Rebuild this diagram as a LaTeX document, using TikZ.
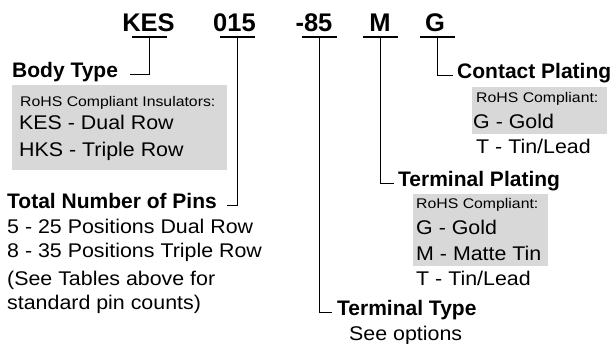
\documentclass[tikz,border=0pt]{standalone}
\usepackage{fontspec}
\setmainfont{Liberation Sans}
\newfontfamily\optfont[FakeStretch=1.08]{Liberation Sans}
\newfontfamily\rohsfont[FakeStretch=1.13]{Liberation Sans}
\usetikzlibrary{positioning}
\definecolor{boxgray}{RGB}{216,216,216}

\begin{document}
\begin{tikzpicture}[x=1pt,y=-1pt,
                    code/.style={font=\bfseries\fontsize{25.5}{30}\selectfont,inner sep=0pt,anchor=base},
                    head/.style={font=\bfseries\fontsize{21}{24}\selectfont,inner sep=0pt,anchor=base west},
                    opt/.style={font=\optfont\fontsize{19.8}{22}\selectfont,inner sep=0pt,anchor=base west},
                    rohs/.style={font=\rohsfont\fontsize{14}{16}\selectfont,inner sep=0pt,anchor=base west},
                    leader/.style={line width=1.5pt}
]
\useasboundingbox (0,0) rectangle (613,343);

% part number
\node [code] at (148.5,31) (kes) {KES};
\node [code] at (234.5,31) (pins) {015};
\node [code] at (314,31) (term) {-85};
\node [code] at (380,31) (tplat) {M};
\node [code] at (435,31) (cplat) {G};
\coordinate (kes u) at (149.5,37);
\coordinate (pins u) at (237.5,37);
\coordinate (term u) at (319.5,37);
\coordinate (tplat u) at (380.5,37);
\coordinate (cplat u) at (437.5,37);
\draw[leader] ([xshift=-17.5pt]kes u) -- ([xshift=17.5pt]kes u);
\draw[leader] ([xshift=-17.5pt]pins u) -- ([xshift=17.5pt]pins u);
\draw[leader] ([xshift=-17.5pt]term u) -- ([xshift=17.5pt]term u);
\draw[leader] ([xshift=-17.5pt]tplat u) -- ([xshift=17.5pt]tplat u);
\draw[leader] ([xshift=-17.5pt]cplat u) -- ([xshift=17.5pt]cplat u);
%
\fill[boxgray] (12,85) rectangle (227,170);
\fill[boxgray] (472,87) rectangle (607,134);
\fill[boxgray] (413,194) rectangle (548,266);
%
\node [head] at (12,77) (body) {Body Type};
\node [rohs] at (20,106) (bodyrohs) {RoHS Compliant Insulators:};
\node [opt] at (19,129) (kesrow) {KES - Dual Row};
\node [opt] at (19,156) (hksrow) {HKS - Triple Row};
%
\node [head] at (7,208) (count) {Total Number of Pins};
\node [opt] at (7,233) (dual) {5 - 25 Positions Dual Row};
\node [opt] at (7,257) (triple) {8 - 35 Positions Triple Row};
\node [opt] at (7,285) (see1) {(See Tables above for};
\node [opt] at (7,309) (see2) {standard pin counts)};
%
\node [head] at (457,78) (contact) {Contact Plating};
\node [rohs] at (476,102) (crohs) {RoHS Compliant:};
\node [opt] at (473,128) (cgold) {G - Gold};
\node [opt] at (476,153) (ctin) {T - Tin/Lead};
%
\node [head] at (398,186) (plating) {Terminal Plating};
\node [rohs] at (416,208) (prohs) {RoHS Compliant:};
\node [opt] at (416,234) (pgold) {G - Gold};
\node [opt] at (416,260) (pmatte) {M - Matte Tin};
\node [opt] at (416,285) (ptin) {T - Tin/Lead};
%
\node [head] at (337,315) (type) {Terminal Type};
\node [opt] at (349,340) (options) {See options};
%
\draw[leader] (kes u) |- ([xshift=12pt]body.mid east);
\draw[leader] (pins u) |- ([xshift=10pt]count.mid east);
\draw[leader] (term u) |- ([xshift=-5pt]type.mid west);
\draw[leader] (tplat u) |- ([xshift=-4pt]plating.mid west);
\draw[leader] (cplat u) |- ([xshift=-4pt]contact.mid west);
\end{tikzpicture}
\end{document}
